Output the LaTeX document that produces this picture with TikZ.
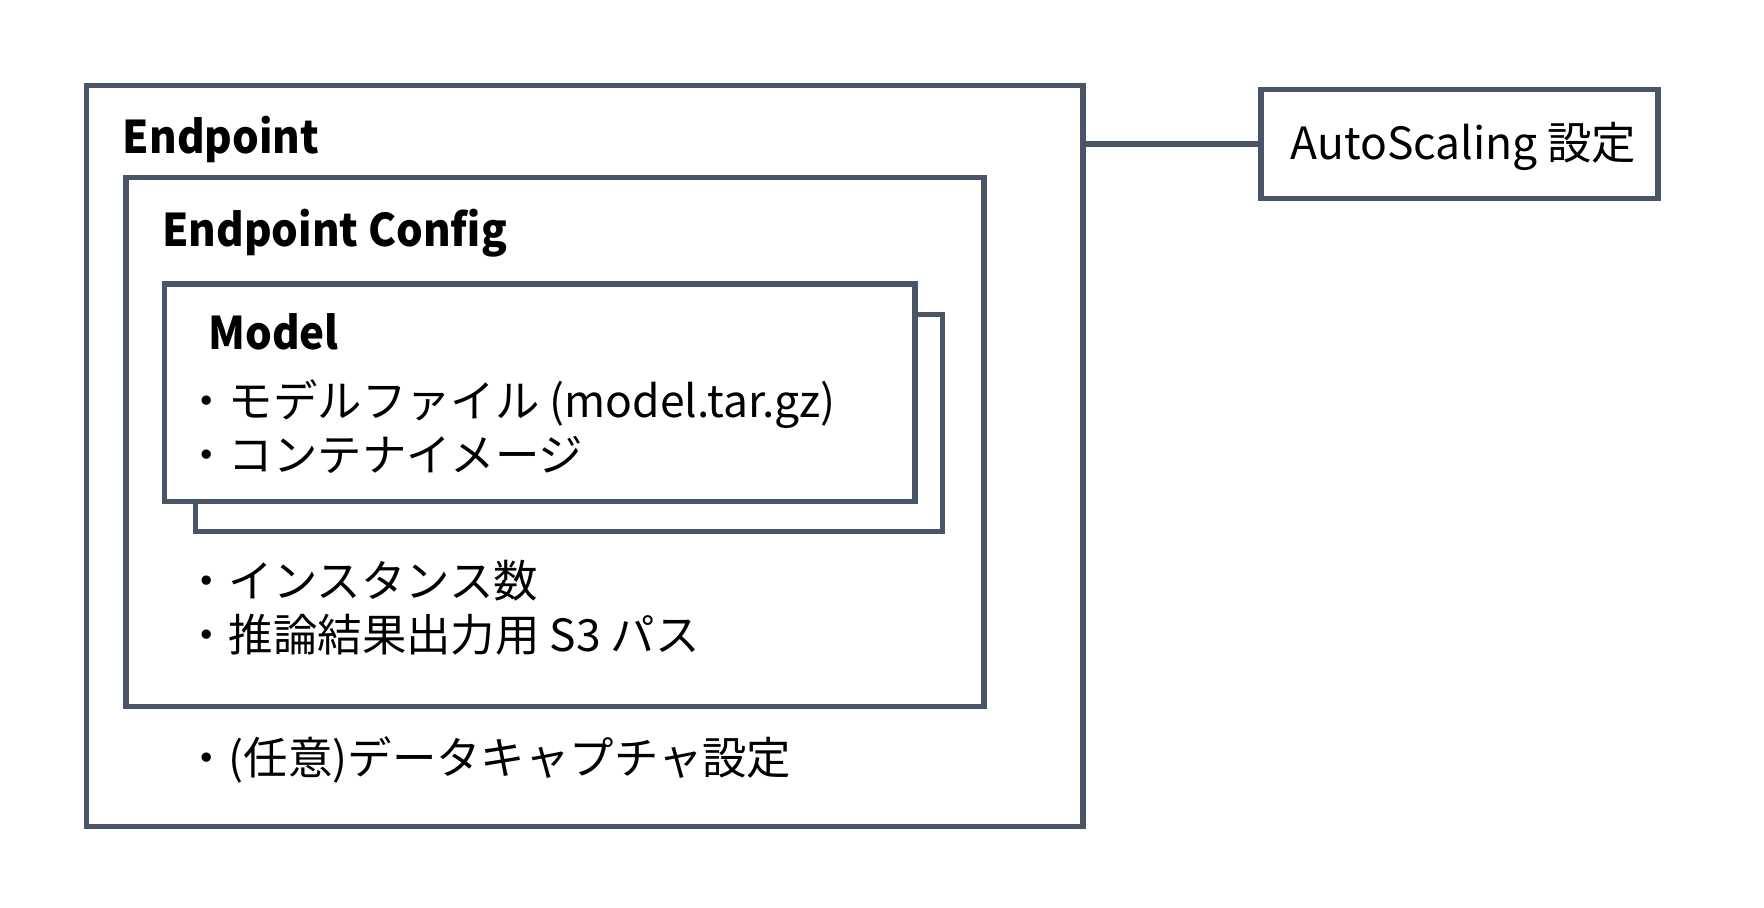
\documentclass[tikz,border=0pt]{standalone}
\usepackage{fontspec}
\setmainfont{Noto Sans CJK JP}
\definecolor{ln}{HTML}{4A5568}
\newcommand{\ttl}[1]{\scalebox{0.935}[1]{#1}}
\tikzset{
  box/.style={draw=ln, line width=2.6pt, fill=white, rectangle, outer sep=0pt, inner sep=0pt, anchor=north west},
  title/.style={font=\fontsize{22.5}{27}\selectfont\bfseries, anchor=base west, inner sep=0pt},
  body/.style={font=\fontsize{22.2}{26}\selectfont, anchor=base west, inner sep=0pt},
  conn/.style={draw=ln, line width=2.6pt}
}
\begin{document}
\begin{tikzpicture}[x=0.5pt,y=-0.5pt]
\useasboundingbox (0,0) rectangle (1764,908);
% boxes
\node[box, minimum width=498.2pt, minimum height=370.5pt] (outer) at (86.6,85.5) {};
\node[box, minimum width=429pt, minimum height=264.4pt] (cfg) at (126,177.75) {};
\node[box, minimum width=373.4pt, minimum height=108.75pt] (mback) at (195.7,314.2) {};
\node[box, minimum width=375.3pt, minimum height=108.9pt] (mfront) at (164.4,284) {};
\node[box, anchor=center, minimum width=198.5pt, minimum height=54.3pt] (as) at (1459.5,144) {};
% texts
\node[title] (tend) at (122.5,153.3) {\ttl{Endpoint}};
\node[title] (tcfg) at (162,246.7) {\ttl{Endpoint Config}};
\node[title] (tmodel) at (208,350) {\ttl{Model}};
\node[body] (l1) at (184,418) {・モデルファイル (model.tar.gz)};
\node[body] (l2) at (184,471) {・コンテナイメージ};
\node[body] (l3) at (184,597) {・インスタンス数};
\node[body] (l4) at (184,651) {・推論結果出力用 S3 パス};
\node[body] (l5) at (184,774) {・(任意)データキャプチャ設定};
\node[body] (tas) at (1290,159.3) {AutoScaling 設定};
% connector
\draw[conn] (as.west) -- (as.west -| outer.east);
\end{tikzpicture}
\end{document}
